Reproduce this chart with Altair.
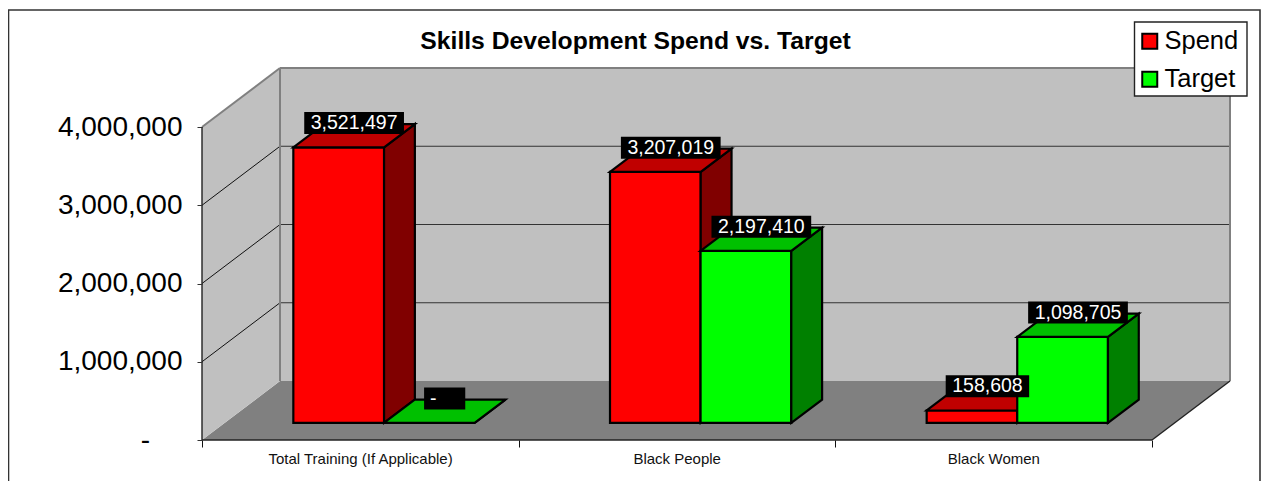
import altair as alt
import pandas as pd

categories = ["Total Training (If Applicable)", "Black People", "Black Women"]
series = ["Spend", "Target"]
spend = [3521497, 3207019, 158608]
target = [0, 2197410, 1098705]
y_ticks = [0, 1000000, 2000000, 3000000, 4000000]
front_colors = ["#FF0000", "#00FF00"]
top_colors = ["#C00000", "#00C000"]
side_colors = ["#800000", "#008000"]

FONT = "Liberation Sans"
W, H = 1253, 473
U = 950 / 3            # px per category
V = 313 / 4000000      # px per unit of value
DX, DY = 78, 59        # full depth of the 3D box, px
X0, Y0 = 194, 432      # origin inside the svg


def px(cat, depth=0.0):
    return cat + depth * DX / U


def py(val, depth=0.0):
    return val + depth * DY / V


xs = alt.Scale(domain=[-X0 / U, (W - X0) / U], nice=False, zero=False)
ys = alt.Scale(domain=[(Y0 - H) / V, Y0 / V], nice=False, zero=False)
fill_scale = alt.Scale(domain=series, range=front_colors)
legend = alt.Legend(
    title=None, orient="none", legendX=1129, legendY=20.5, padding=0,
    symbolType="square", symbolSize=225,
    symbolStrokeColor="black", symbolStrokeWidth=2, labelFont=FONT,
    labelFontSize=25.5, labelColor="black", rowPadding=11, labelOffset=2,
)
x_axis = alt.Axis(
    values=[0, 1, 2, 3], title=None, grid=False, domain=False, offset=-41,
    tickColor="#111111", tickSize=7, labelFont=FONT, labelFontSize=15,
    labelColor="#111111", labelOffset=158, labelPadding=4, labelBound=False,
    labelFlush=False, labelOverlap=False, labelLimit=500, zindex=1,
    labelExpr="[" + ",".join(repr(c) for c in categories) + ",''][datum.value]",
)
y_axis = alt.Axis(
    values=y_ticks, title=None, grid=False, domain=False, offset=-194,
    tickColor="#333333", tickSize=5, labelFont=FONT, labelFontSize=28,
    labelColor="black", labelPadding=15, labelOverlap=False, labelBound=False,
    labelFlush=False, zindex=1,
    labelExpr="datum.value == 0 ? '' : format(datum.value, ',')",
)


def X(field="x:Q"):
    return alt.X(field, scale=xs, axis=x_axis)


def Y(field="y:Q"):
    return alt.Y(field, scale=ys, axis=y_axis)


def vert_area(rows, color, **mark):
    return alt.Chart(pd.DataFrame(rows, columns=["x", "y", "y2"])).mark_area(
        color=color, **mark
    ).encode(X(), Y(), y2="y2:Q")


def horiz_area(rows, color, **mark):
    return alt.Chart(pd.DataFrame(rows, columns=["y", "x", "x2"])).mark_area(
        color=color, orient="horizontal", **mark
    ).encode(X(), Y(), x2="x2:Q")


def rules(rows, color, width):
    return alt.Chart(pd.DataFrame(rows, columns=["x", "x2", "y", "y2"])).mark_rule(
        color=color, strokeWidth=width
    ).encode(X(), Y(), x2="x2:Q", y2="y2:Q")


top = y_ticks[-1]
layers = []

# frame: as far as the page lets it reach
frame = pd.DataFrame([{
    "x": (0.5 - X0) / U, "x2": (1252 - X0) / U,
    "y": (Y0 - 2) / V, "y2": (Y0 - 490) / V,
}])
layers.append(
    alt.Chart(frame).mark_rect(filled=False, stroke="#333333", strokeWidth=1.6).encode(
        X(), Y(), x2="x2:Q", y2="y2:Q"
    )
)

# floor and walls
layers.append(horiz_area([(py(0), 0, 3), (py(0, 1), px(0, 1), px(3, 1))], "#808080"))
layers.append(vert_area([(px(0), py(0), py(top)), (px(0, 1), py(0, 1), py(top, 1))], "#C0C0C0"))
layers.append(vert_area([(px(0, 1), py(0, 1), py(top, 1)), (px(3, 1), py(0, 1), py(top, 1))], "#C0C0C0"))

# gridlines
grid_back = [(px(0, 1), px(3, 1), py(t, 1), py(t, 1)) for t in y_ticks[1:-1]]
layers.append(rules(grid_back, "#333333", 1.2))
grid_side = [(px(0), px(0, 1), py(t), py(t, 1)) for t in y_ticks[1:-1]]
layers.append(rules(grid_side, "#111111", 1))

# wall edges
edges = [
    (px(0), px(0, 1), py(top), py(top, 1)),
    (px(0, 1), px(3, 1), py(top, 1), py(top, 1)),
    (px(0, 1), px(0, 1), py(0, 1), py(top, 1)),
    (px(3, 1), px(3, 1), py(0, 1), py(top, 1)),
]
layers.append(rules(edges, "#808080", 2))

# axis lines of the box
box = [
    (0, 3, 0, 0),
    (px(0), px(0), py(0), py(top)),
    (px(3), px(3, 1), py(0), py(0, 1)),
]
layers.append(rules(box, "#222222", 1.4))

# bars
D0, D1 = 0.29, 0.685
BAR = 0.2865
offsets = [0.217, 0.503]
labels = []
for c in range(len(categories)):
    for s, vals in enumerate([spend, target]):
        v = vals[c]
        c0 = c + offsets[s]
        c1 = c0 + BAR
        mark = dict(stroke="black", strokeWidth=2.2)
        front = pd.DataFrame(
            [(px(c0, D0), py(0, D0), py(v, D0)), (px(c1, D0), py(0, D0), py(v, D0))],
            columns=["x", "y", "y2"],
        )
        front["series"] = series[s]
        layers.append(
            alt.Chart(front).mark_area(**mark).encode(
                X(), Y(), y2="y2:Q",
                fill=alt.Fill("series:N", scale=fill_scale, legend=legend),
            )
        )
        layers.append(vert_area(
            [(px(c1, D0), py(0, D0), py(v, D0)), (px(c1, D1), py(0, D1), py(v, D1))],
            side_colors[s], **mark))
        layers.append(horiz_area(
            [(py(v, D0), px(c0, D0), px(c1, D0)), (py(v, D1), px(c0, D1), px(c1, D1))],
            top_colors[s], **mark))
        text = f"{v:,}" if v else "-"
        em = sum({",": 0.278, "-": 1.445}.get(ch, 0.556) for ch in text)
        half = (em * 19.5 + 13) / 2 / U
        cx = (px(c0, D0) + px(c1, D1)) / 2
        cy = py(v, D1) + 1 / V
        labels.append(dict(
            x=cx, x0=cx - half, x1=cx + half, y=cy,
            y0=cy - 11 / V, y1=cy + 11 / V, text=text,
        ))

lab = pd.DataFrame(labels)
layers.append(
    alt.Chart(lab).mark_rect(color="black").encode(
        x=X("x0:Q"), x2="x1:Q", y=Y("y0:Q"), y2="y1:Q",
    )
)
label_style = dict(color="white", font=FONT, fontSize=19.5, align="center", baseline="middle")
layers.append(
    alt.Chart(lab[lab.text != "-"]).mark_text(**label_style).encode(X(), Y(), text="text:N")
)
# the accounting-format dash sits left of its box's centre
layers.append(
    alt.Chart(lab[lab.text == "-"]).mark_text(dx=-11.5, **label_style).encode(X(), Y(), text="text:N")
)
# the same dash for the zero tick of the value axis
zero_tick = pd.DataFrame({"x": [0.0], "y": [y_ticks[0]], "text": ["-"]})
layers.append(
    alt.Chart(zero_tick).mark_text(
        color="black", font=FONT, fontSize=28, align="right", baseline="middle", dx=-52, dy=1
    ).encode(X(), Y(), text="text:N")
)

# legend box, under the native legend
legend_box = pd.DataFrame([{
    "x": (1126.5 - X0) / U, "x2": (1239 - X0) / U,
    "y": (Y0 - 14) / V, "y2": (Y0 - 88) / V,
}])
layers.append(
    alt.Chart(legend_box).mark_rect(fill="white", stroke="#222222", strokeWidth=1.4).encode(
        X(), Y(), x2="x2:Q", y2="y2:Q"
    )
)

chart = alt.layer(*layers).properties(
    width=W,
    height=H,
    padding=0,
    autosize=alt.AutoSizeParams(type="none"),
    background="white",
    title=alt.TitleParams(
        "Skills Development Spend vs. Target", font=FONT, fontSize=24.7,
        fontWeight="bold", color="black", anchor="middle", offset=0,
        dx=1, dy=46,
    ),
).configure_view(stroke=None)

chart.save("out.html", embed_options={"renderer": "svg", "actions": False})
